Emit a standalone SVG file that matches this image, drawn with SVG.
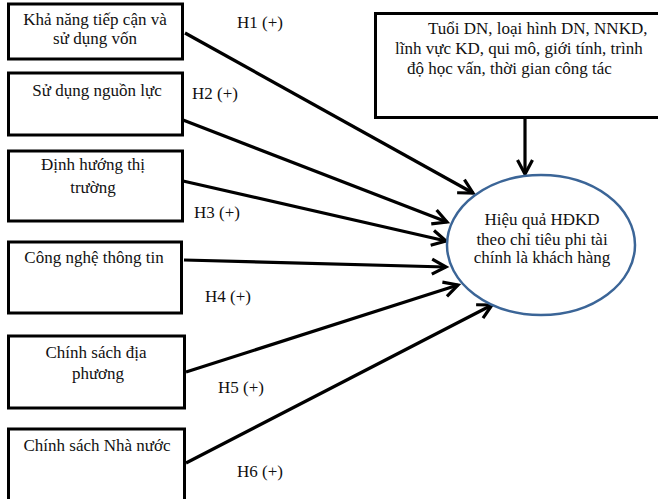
<svg xmlns="http://www.w3.org/2000/svg" width="658" height="499" viewBox="0 0 658 499">
<style>
text{font-family:"Liberation Serif","Times New Roman",serif;font-size:17px;fill:#111}
.c{text-anchor:middle}
.box{fill:#fff;stroke:#000;stroke-width:3}
.ln{stroke:#000;stroke-width:3.2;fill:none;marker-end:url(#ah)}
</style>
<defs>
<marker id="ah" markerUnits="userSpaceOnUse" markerWidth="22" markerHeight="22" viewBox="-18 -11 22 22" refX="0" refY="0" orient="auto">
<path d="M-14,-7.5 L0,0 L-14,7.5" fill="none" stroke="#000" stroke-width="3.2" stroke-linejoin="miter"/>
</marker>
</defs>
<rect width="658" height="499" fill="#fff"/>
<g id="connectors">
<line class="ln" x1="185" y1="33" x2="473" y2="193"/>
<line class="ln" x1="183" y1="120" x2="447" y2="222"/>
<line class="ln" x1="183" y1="181" x2="446" y2="241"/>
<line class="ln" x1="184" y1="260" x2="446" y2="267"/>
<line class="ln" x1="186" y1="372" x2="458" y2="285"/>
<line class="ln" x1="186" y1="463" x2="492" y2="305"/>
<line class="ln" x1="525" y1="118" x2="525" y2="174"/>
</g>
<g id="labels">
<text x="237" y="28">H1 (+)</text>
<text x="192" y="99">H2 (+)</text>
<text x="194" y="218">H3 (+)</text>
<text x="205" y="302">H4 (+)</text>
<text x="218" y="393">H5 (+)</text>
<text x="237" y="477">H6 (+)</text>
</g>
<g id="n1">
<rect class="box" x="8.5" y="4" width="174" height="55"/>
<text class="c" x="95" y="25">Khả năng tiếp cận và</text>
<text class="c" x="95" y="44">sử dụng vốn</text>
</g>
<g id="n2">
<rect class="box" x="8.5" y="73" width="174" height="62"/>
<text class="c" x="97" y="96">Sử dụng nguồn lực</text>
</g>
<g id="n3">
<rect class="box" x="8.5" y="151" width="174" height="70"/>
<text class="c" x="93" y="170">Định hướng thị</text>
<text class="c" x="93" y="193">trường</text>
</g>
<g id="n4">
<rect class="box" x="8.5" y="242" width="173" height="71"/>
<text class="c" x="94" y="263">Công nghệ thông tin</text>
</g>
<g id="n5">
<rect class="box" x="8.5" y="336" width="176" height="72"/>
<text class="c" x="96" y="358">Chính sách địa</text>
<text class="c" x="98" y="379">phương</text>
</g>
<g id="n6">
<rect class="box" x="8.5" y="429" width="176" height="80"/>
<text class="c" x="97" y="451">Chính sách Nhà nước</text>
</g>
<g id="n7">
<rect class="box" x="375.5" y="13.5" width="290" height="104"/>
<text x="428" y="34">Tuổi DN, loại hình DN, NNKD,</text>
<text x="395" y="54">lĩnh vực KD, qui mô, giới tính, trình</text>
<text x="407" y="74">độ học vấn, thời gian công tác</text>
</g>
<g id="n8">
<ellipse cx="541" cy="245" rx="94" ry="70" fill="#fff" stroke="#3b6597" stroke-width="2.5"/>
<text class="c" x="542" y="225">Hiệu quả HĐKD</text>
<text class="c" x="542" y="245">theo chỉ tiêu phi tài</text>
<text class="c" x="542" y="263">chính là khách hàng</text>
</g>
</svg>
